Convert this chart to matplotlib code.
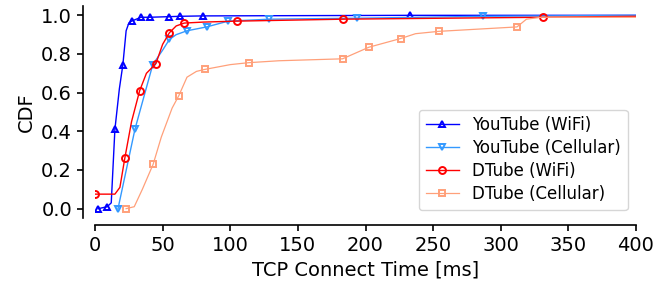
import matplotlib
matplotlib.use("Agg")
import matplotlib.pyplot as plt

# CDF curves of TCP connect time (ms); markers sit on a subset of points
yt_wifi_x = [2.5, 9, 12, 14.7, 18, 20.6, 23, 25, 27, 34, 40.5, 54.5, 63, 80, 233, 400]
yt_wifi_y = [0.0, 0.01, 0.03, 0.41, 0.62, 0.745, 0.92, 0.96, 0.97, 0.99, 0.99, 0.993, 0.995, 0.997, 1.0, 1.0]
yt_wifi_marks = [0, 1, 3, 5, 8, 9, 10, 11, 12, 13, 14]

yt_cell_x = [17, 29.5, 35, 42.7, 50, 55, 60, 68, 82.5, 98.5, 129, 194, 287, 400]
yt_cell_y = [0.0, 0.41, 0.55, 0.745, 0.82, 0.875, 0.9, 0.92, 0.94, 0.97, 0.98, 0.985, 0.995, 1.0]
yt_cell_marks = [0, 1, 3, 5, 7, 8, 9, 10, 11, 12]

dt_wifi_x = [0, 14.7, 18.4, 22, 27, 33, 38, 45, 50, 55, 60, 66, 80, 105, 183, 331.5, 400]
dt_wifi_y = [0.075, 0.075, 0.11, 0.26, 0.45, 0.61, 0.7, 0.75, 0.85, 0.91, 0.945, 0.96, 0.965, 0.97, 0.98, 0.99, 0.995]
dt_wifi_marks = [0, 3, 5, 7, 9, 11, 13, 14, 15]

dt_cell_x = [23, 29, 35, 43, 49, 57, 62, 68, 75, 81, 100, 113.5, 136, 183, 202.5, 226, 237, 254, 312, 319, 330, 400]
dt_cell_y = [0.0, 0.01, 0.1, 0.23, 0.37, 0.52, 0.585, 0.68, 0.71, 0.72, 0.745, 0.755, 0.765, 0.775,
             0.835, 0.88, 0.905, 0.917, 0.94, 0.98, 0.99, 0.99]
dt_cell_marks = [0, 3, 6, 9, 11, 13, 14, 15, 17, 18]

fig = plt.figure(figsize=(6.72, 2.83), dpi=100)
ax = fig.add_axes([0.1414, 0.2286, 0.8050, 0.7514])

ax.plot(yt_wifi_x, yt_wifi_y, color="#0000ff", lw=1, marker="^", markevery=yt_wifi_marks,
        ms=5, mfc="none", mew=1.4, label="YouTube (WiFi)")
ax.plot(yt_cell_x, yt_cell_y, color="#3399ff", lw=1, marker="v", markevery=yt_cell_marks,
        ms=5, mfc="none", mew=1.4, label="YouTube (Cellular)")
ax.plot(dt_wifi_x, dt_wifi_y, color="#ff0000", lw=1, marker="o", markevery=dt_wifi_marks,
        ms=5, mfc="none", mew=1.4, label="DTube (WiFi)")
ax.plot(dt_cell_x, dt_cell_y, color="#ffa07a", lw=0.9, marker="s", markevery=dt_cell_marks,
        ms=5, mfc="none", mew=1.4, label="DTube (Cellular)")

ax.set_xlim(0, 400)
ax.set_ylim(-0.05, 1.05)
ax.set_xticks(range(0, 401, 50))
ax.set_yticks([0.0, 0.2, 0.4, 0.6, 0.8, 1.0])
ax.set_yticklabels(["0.0", "0.2", "0.4", "0.6", "0.8", "1.0"])

for side in ["top", "right"]:
    ax.spines[side].set_visible(False)
ax.spines["left"].set_position(("outward", 8.5))
ax.spines["bottom"].set_position(("outward", 4.5))
ax.spines["left"].set_linewidth(1.2)
ax.spines["bottom"].set_linewidth(1.2)
ax.tick_params(labelsize=14, length=4.5, width=1.2)

ax.set_xlabel("TCP Connect Time [ms]", fontsize=14)
ax.set_ylabel("CDF", fontsize=14)

ax.legend(loc="lower right", fontsize=12, frameon=True, labelspacing=0.3)

plt.savefig("out.png", dpi=100)
